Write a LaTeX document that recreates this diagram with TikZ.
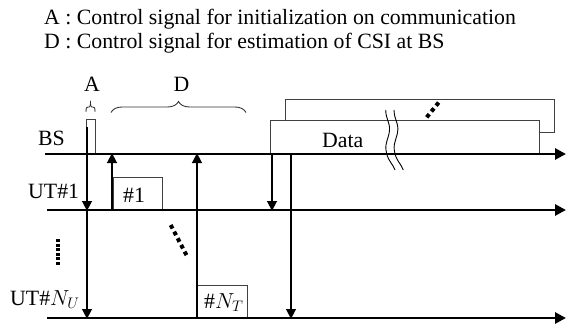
\RequirePackage{fix-cm}
\documentclass[tikz,border=0pt]{standalone}
\usepackage{fontspec}
\setmainfont{Liberation Serif}
\usetikzlibrary{arrows.meta,decorations.pathreplacing}
\begin{document}
\begin{tikzpicture}[x=1pt,y=-1pt,
  txt/.style={inner sep=0pt,anchor=base west,font=\fontsize{21.8}{26}\selectfont},
  ctxt/.style={inner sep=0pt,anchor=base,font=\fontsize{21.8}{26}\selectfont},
  axis/.style={line width=2.7pt,-{Triangle[length=11pt,width=11pt]}},
  sig/.style={line width=2.7pt,-{Triangle[length=10pt,width=9.5pt]}},
  boxline/.style={line width=1pt,draw=black!75,fill=white},
  dotsq/.style={line width=4pt,dash pattern=on 4pt off 3.5pt},
  vdots/.style={line width=4pt,dash pattern=on 3pt off 1.5pt},
  thinline/.style={line width=0.9pt,draw=black!80}]
\useasboundingbox (0,0) rectangle (567,326);

% legend texts
\node[txt] (lgA) at (44,25) {A : Control signal for initialization on communication};
\node[txt] (lgD) at (44,48.5) {D : Control signal for estimation of CSI at BS};

% coordinates for time lines
\coordinate (bsS) at (45,154);  \coordinate (bsE) at (566,154);
\coordinate (u1S) at (47,210);  \coordinate (u1E) at (566,210);
\coordinate (unS) at (47,318);  \coordinate (unE) at (566,318);

% boxes
\draw[boxline] (285.5,100) rectangle (554,132.7);
\draw[boxline] (270.5,121) rectangle (539,154);
\node[txt] (data) at (322,147) {Data};
\draw[boxline] (86,120) rectangle (95,154);
\draw[boxline] (113,177) rectangle (162,210);
\node[txt] (b1) at (123,202.5) {\#1};
\draw[boxline] (197,285) rectangle (247,318);
\node[txt] (bN) at (204,308.3) {\#$N_T$};

% time lines
\draw[axis] (bsS) -- (bsE);
\draw[axis] (u1S) -- (u1E);
\draw[axis] (unS) -- (unE);

% labels
\node[txt] (lBS) at (38,145) {BS};
\node[txt] (lU1) at (28,198.5) {UT\#1};
\node[txt] (lUN) at (10,305) {UT\#$N_U$};
\node[ctxt] (lA) at (92,92) {A};
\node[ctxt] (lD) at (181.5,92) {D};

% braces
\draw[thinline] (86,112) .. controls (86,107.5) and (86.5,107) .. (88,107) -- (89.3,107)
  .. controls (90.5,107) and (90.5,105) .. (90.5,101);
\draw[thinline] (95,112) .. controls (95,107.5) and (94.5,107) .. (93,107) -- (91.7,107)
  .. controls (90.5,107) and (90.5,105) .. (90.5,101);
\draw[thinline,decorate,decoration={brace,amplitude=11pt}] (111,112.5) -- (246,112.5);

% signal arrows
\coordinate (aTop) at (87,127);
\coordinate (a1) at (87,211);
\coordinate (aN) at (87,319);
\draw[sig] (aTop) -- (aN);
\draw[sig] (aTop) -- (a1);
\coordinate (p1s) at (112,210); \coordinate (p1e) at (112,153);
\draw[sig] (p1s) -- (p1e);
\coordinate (pNs) at (197,318); \coordinate (pNe) at (197,153);
\draw[sig] (pNs) -- (pNe);
\coordinate (d1s) at (272,154); \coordinate (d1e) at (272,211);
\draw[sig] (d1s) -- (d1e);
\coordinate (dNs) at (291,154); \coordinate (dNe) at (291,319);
\draw[sig] (dNs) -- (dNe);

% wavy break lines
\draw[line width=0.9pt] (385.7,110) .. controls (386,120) and (390,122) .. (389.5,130)
  .. controls (389,138) and (385,142) .. (386,150) .. controls (387,160) and (393,164) .. (395,170);
\draw[line width=0.9pt] (394,110) .. controls (394.3,120) and (398.3,122) .. (397.8,130)
  .. controls (397.3,138) and (393.3,142) .. (394.3,150) .. controls (395.3,160) and (401.3,164) .. (403.3,170);

% dots
\coordinate (t1) at (426.7,117.3); \coordinate (t2) at (439.3,101.7);
\draw[dotsq] (t1) -- (t2);
\coordinate (m1) at (170.7,225); \coordinate (m2) at (187.3,256.7);
\draw[dotsq] (m1) -- (m2);
\coordinate (v1) at (58.3,239); \coordinate (v2) at (58.3,265);
\draw[vdots] (v1) -- (v2);
\end{tikzpicture}
\end{document}
